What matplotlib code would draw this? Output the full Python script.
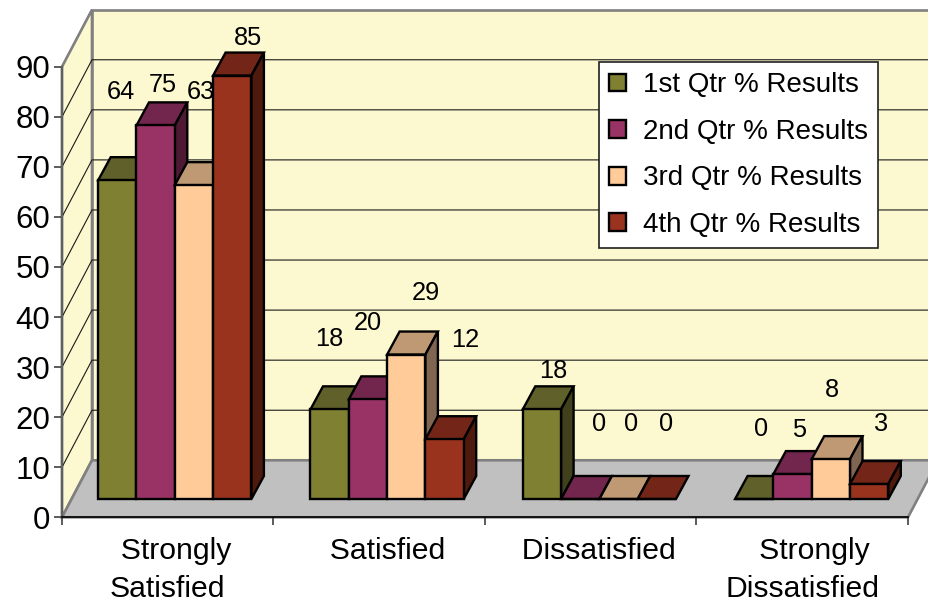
import matplotlib.pyplot as plt
from matplotlib.patches import Polygon

plt.rcParams['font.family'] = ['Liberation Sans', 'DejaVu Sans']

# survey results per quarter, one value for each category
categories = ["  Strongly\nSatisfied", "  Satisfied", "  Dissatisfied", "   Strongly\nDissatisfied"]
series_names = ["1st Qtr % Results", "2nd Qtr % Results", "3rd Qtr % Results", "4th Qtr % Results"]
qtr1 = [64, 18, 18, 0]
qtr2 = [75, 20, 0, 5]
qtr3 = [63, 29, 0, 8]
qtr4 = [85, 12, 0, 3]
y_ticks = [0, 10, 20, 30, 40, 50, 60, 70, 80, 90]

# front, top and side colour of each series
front_colors = ["#808033", "#993366", "#FFCC99", "#99331E"]
top_colors = ["#60602A", "#73264D", "#BF9973", "#732618"]
side_colors = ["#40401C", "#4D1933", "#806650", "#4D1A0D"]

# where each value label sits relative to its bar, in pixels (right, up)
label_shift = [
    [(4, 88), (0, 70), (11, 38), (7, 70)],
    [(7.5, 40), (0, 76), (19, 75), (7, 44)],
    [(7, 93), (20, 62), (13, 75), (1, 69)],
    [(16, 38), (21, 99), (9, 75), (12, 60)],
]

WIDTH, HEIGHT = 929, 606
X_PX = 846 / 4          # pixels for one category
Y_PX = 450.6 / 90       # pixels for one value unit

fig = plt.figure(figsize=(WIDTH / 100, HEIGHT / 100), dpi=100)
ax = fig.add_axes([62 / WIDTH, (HEIGHT - 517.3) / HEIGHT, 846 / WIDTH, 450.6 / HEIGHT])
ax.set_xlim(0, 4)
ax.set_ylim(0, 90)
ax.patch.set_visible(False)

# depth of the box and of the bars, converted to data units
box_dx = 30 / X_PX
box_dy = 57 / Y_PX
bar_dx = 12.5 / X_PX
bar_dy = 23 / Y_PX
bar_base = 18.3 / Y_PX
bar_width = 38.3 / X_PX
bar_start = 36.2 / X_PX
group_step = 212.3 / X_PX
bar_scale = 0.995  # bars stand a little further back than the axis

wall = "#FCF8CF"
edge = "#808080"

# side wall, back wall and floor
ax.add_patch(Polygon([(0, 0), (box_dx, box_dy), (box_dx, 90 + box_dy), (0, 90)],
                     fc=wall, ec=edge, lw=1.9, clip_on=False, zorder=0.5))
ax.add_patch(Polygon([(box_dx, box_dy), (4.2, box_dy), (4.2, 90 + box_dy), (box_dx, 90 + box_dy)],
                     fc=wall, ec=edge, lw=1.9, clip_on=False, zorder=0.5))
ax.add_patch(Polygon([(0, 0), (box_dx, box_dy), (4 + box_dx, box_dy), (4, 0)],
                     fc="#C0C0C0", ec=edge, lw=1.9, clip_on=False, zorder=1))

# gridlines run along the side wall and then across the back wall
for v in y_ticks[1:-1]:
    ax.plot([0, box_dx, 4.2], [v, v + box_dy, v + box_dy], color="#1a1a1a", lw=0.8,
            clip_on=False, zorder=0.8)

all_series = [qtr1, qtr2, qtr3, qtr4]
for i, values in enumerate(all_series):
    lefts = [bar_start + g * group_step + i * bar_width for g in range(4)]
    heights = [v * bar_scale for v in values]
    z = 3 + i * 3
    for g, left in enumerate(lefts):
        right = left + bar_width
        top = bar_base + heights[g]
        # top face
        ax.add_patch(Polygon([(left, top), (left + bar_dx, top + bar_dy),
                              (right + bar_dx, top + bar_dy), (right, top)],
                             fc=top_colors[i], ec="black", lw=1.7, clip_on=False, zorder=z))
        # side face
        if values[g] > 0:
            ax.add_patch(Polygon([(right, bar_base), (right + bar_dx, bar_base + bar_dy),
                                  (right + bar_dx, top + bar_dy), (right, top)],
                                 fc=side_colors[i], ec="black", lw=1.7, clip_on=False, zorder=z))
        sx, sy = label_shift[i][g]
        ax.annotate(str(values[g]), (left + bar_width / 2, top), xytext=(sx * 0.72, sy * 0.72),
                    textcoords="offset points", ha="center", va="center", fontsize=18.3,
                    color="black", zorder=z + 1.5, annotation_clip=False)
    ax.bar(lefts, heights, width=bar_width, bottom=bar_base, align="edge", color=front_colors[i],
           edgecolor="black", linewidth=1.7, label=series_names[i], clip_on=False, zorder=z + 1)

# axes
for name in ["top", "right"]:
    ax.spines[name].set_visible(False)
ax.spines["left"].set_color("#606060")
ax.spines["left"].set_linewidth(1.6)
ax.spines["left"].set_zorder(2)
ax.spines["bottom"].set_color("black")
ax.spines["bottom"].set_linewidth(1.2)
ax.spines["bottom"].set_zorder(2)

ax.set_yticks(y_ticks)
ax.tick_params(axis="y", length=5.5, width=1.2, color="#404040", pad=3, labelsize=22.5)
ax.set_xticks([0, 1, 2, 3, 4])
ax.set_xticklabels([])
ax.set_xticks([0.5, 1.5, 2.5, 3.5], minor=True)
ax.set_xticklabels(categories, minor=True, fontsize=21.7, linespacing=1.47, va="top")
ax.tick_params(axis="x", which="major", length=6, width=1.2, color="#404040")
ax.tick_params(axis="x", which="minor", length=0, pad=14)

leg = ax.legend(loc="upper left", bbox_to_anchor=(599 / WIDTH, (HEIGHT - 62) / HEIGHT),
                bbox_transform=fig.transFigure, fontsize=20, fancybox=False, framealpha=1,
                edgecolor="#202020", borderaxespad=0, handlelength=0.61, handleheight=0.61,
                handletextpad=0.61, labelspacing=0.74, borderpad=0.37)
leg.set_zorder(40)
leg.get_frame().set_linewidth(1.2)

fig.savefig("out.png", dpi=100)
